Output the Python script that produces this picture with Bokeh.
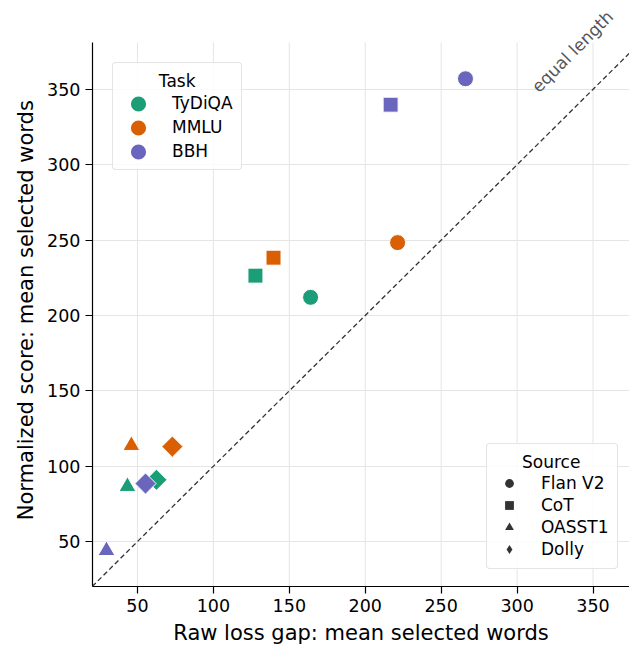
import numpy as np
from bokeh.plotting import figure
from bokeh.models import Legend, LegendItem, Label, Range1d, FixedTicker, ColumnDataSource, Slope
from bokeh.embed import file_html
from bokeh.resources import INLINE

tasks = ["TyDiQA", "MMLU", "BBH"]
task_colors = ["#1b9e77", "#d95f02", "#6a66bd"]
sources = ["Flan V2", "CoT", "OASST1", "Dolly"]
source_markers = ["circle", "square", "triangle", "square"]
legend_markers = ["circle", "square", "triangle", "diamond"]
source_angles = [0, 0, 0, 45]
source_sizes = [16, 15, 17, 15]
ticks = [50, 100, 150, 200, 250, 300, 350]

# raw loss gap (x) and normalized score (y), per task, in source order
raw_tydiqa = [164, 127.7, 43.4, 62.5]
norm_tydiqa = [212, 226.4, 86.5, 91]
raw_mmlu = [221.3, 139.6, 46, 73]
norm_mmlu = [248.3, 238.3, 113.7, 113]
raw_bbh = [266, 216.7, 29.6, 55.3]
norm_bbh = [357, 339.8, 44, 88.5]

raw = [raw_tydiqa, raw_mmlu, raw_bbh]
norm = [norm_tydiqa, norm_mmlu, norm_bbh]

FONT = "DejaVu Sans"
NB = "\u00a0"
X0, X1 = 20.4, 374
Y0, Y1 = 20.2, 381

p = figure(width=629, height=649, output_backend="svg", toolbar_location=None,
           x_range=Range1d(X0, X1), y_range=Range1d(Y0, 408.9),
           min_border_left=92, min_border_right=0, min_border_top=0, min_border_bottom=63)
p.outline_line_color = None
p.background_fill_color = "white"

for ax in (p.xaxis[0], p.yaxis[0]):
    ax.axis_line_color = "black"
    ax.axis_line_width = 1.2
    ax.major_tick_line_color = "black"
    ax.major_tick_line_width = 1.2
    ax.major_tick_out = 7
    ax.major_tick_in = 0
    ax.minor_tick_line_color = None
    ax.major_label_text_font = FONT
    ax.major_label_text_font_size = "17.5px"
    ax.major_label_text_color = "black"
    ax.major_label_standoff = 5
    ax.axis_label_text_font = FONT
    ax.axis_label_text_font_size = "21px"
    ax.axis_label_text_font_style = "normal"
    ax.axis_label_text_color = "black"
    ax.axis_label_standoff = 6

p.yaxis.bounds = (Y0, Y1)
p.xaxis.ticker = FixedTicker(ticks=ticks)
p.yaxis.ticker = FixedTicker(ticks=ticks)
p.xaxis.axis_label = "Raw loss gap: mean selected words"
p.yaxis.axis_label = "Normalized score: mean selected words" + NB * 5
p.ygrid.grid_line_color = "#e5e5e5"
p.ygrid.grid_line_width = 1
p.xgrid.visible = False
# vertical grid lines stopping at the top of the axes box
p.segment(x0=ticks, x1=ticks, y0=[Y0] * len(ticks), y1=[Y1] * len(ticks),
          line_color="#e5e5e5", line_width=1, level="underlay")

p.add_layout(Slope(gradient=1, y_intercept=0, line_color="#333333", line_dash="5 3", line_width=1.3))

for ti, t in enumerate(tasks):
    for si, s in enumerate(sources):
        src = ColumnDataSource(dict(x=[raw[ti][si]], y=[norm[ti][si]]))
        p.scatter("x", "y", source=src, marker=source_markers[si], size=source_sizes[si],
                  angle=source_angles[si], angle_units="deg",
                  fill_color=task_colors[ti], line_color="white", line_width=1, fill_alpha=1)

lbl = Label(x=336.4, y=375.1, text="equal length", angle=45, angle_units="deg",
            text_align="center", text_baseline="middle", text_color="#555555",
            text_font=FONT, text_font_size="17px")
p.add_layout(lbl)

task_items = []
for ti, t in enumerate(tasks):
    r = p.ellipse(x=[np.nan], y=[np.nan], width=15, height=15, width_units="screen", height_units="screen",
                  fill_color=task_colors[ti], line_color=None)
    task_items.append(LegendItem(label=t, renderers=[r]))
src_items = []
for si, s in enumerate(sources):
    r = p.scatter(x=[np.nan], y=[np.nan], marker=legend_markers[si], size=12,
                  fill_color="#333333", line_color=None)
    src_items.append(LegendItem(label=s, renderers=[r]))

def style(leg):
    leg.title_text_font = FONT
    leg.title_text_font_size = "17px"
    leg.title_text_font_style = "normal"
    leg.title_text_color = "black"
    leg.label_text_font = FONT
    leg.label_text_font_size = "17px"
    leg.label_text_color = "black"
    leg.border_line_color = "#cccccc"
    leg.border_line_width = 1.2
    leg.border_radius = 4
    leg.background_fill_alpha = 0.85
    leg.padding = 8
    leg.margin = 0
    leg.label_height = 20

leg1 = Legend(items=task_items, title=NB * 7 + "Task", location=(20, 416))
style(leg1)
leg1.glyph_width = 34
leg1.glyph_height = 19
leg1.spacing = 4
leg1.title_standoff = 2
leg1.label_standoff = 17

leg2 = Legend(items=src_items, title=NB * 5 + "Source", location=(394, 17))
style(leg2)
leg2.glyph_width = 28
leg2.glyph_height = 22
leg2.spacing = 0
leg2.title_standoff = -3
leg2.label_standoff = 18

p.add_layout(leg1)
p.add_layout(leg2)

open("out.html", "w").write(file_html(p, INLINE))
